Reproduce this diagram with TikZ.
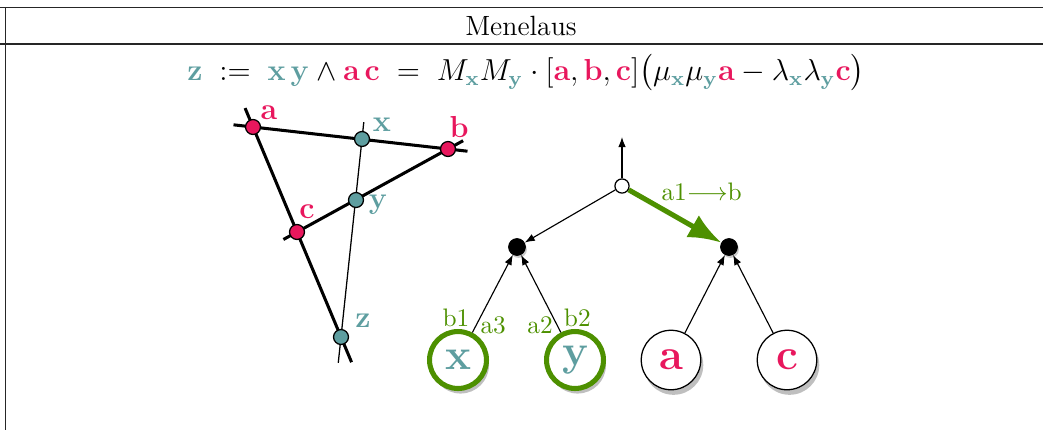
\documentclass[tikz,border=0pt]{standalone}
\usepackage{amsmath}
\usetikzlibrary{arrows.meta, calc, shadows, backgrounds}

\definecolor{ptred}{RGB}{232,23,93}
\definecolor{ptteal}{RGB}{94,158,160}
\definecolor{ptgreen}{RGB}{77,144,0}

\newcommand{\ptx}{\textcolor{ptteal}{\mathbf{x}}}
\newcommand{\pty}{\textcolor{ptteal}{\mathbf{y}}}
\newcommand{\ptz}{\textcolor{ptteal}{\mathbf{z}}}
\newcommand{\pta}{\textcolor{ptred}{\mathbf{a}}}
\newcommand{\ptb}{\textcolor{ptred}{\mathbf{b}}}
\newcommand{\ptc}{\textcolor{ptred}{\mathbf{c}}}

\begin{document}
\begin{tikzpicture}[
    x=0.395pt, y=-0.395pt,
    frame/.style={line width=0.7pt, black!85},
    redpt/.style={draw, circle, fill=ptred, minimum size=5.9pt, inner sep=0pt, line width=0.5pt},
    tealpt/.style={draw, circle, fill=ptteal, minimum size=5.9pt, inner sep=0pt, line width=0.5pt},
    ptlabel/.style={font=\large\bfseries},
    thickline/.style={line width=1.2pt},
    thinline/.style={line width=0.5pt},
    whitenode/.style={draw, circle, fill=white, minimum size=5.6pt, inner sep=0pt, line width=0.5pt},
    blacknode/.style={draw, circle, fill=black, minimum size=6.6pt, inner sep=0pt, drop shadow={opacity=0.4, shadow xshift=0.6pt, shadow yshift=-1pt}},
    leaf/.style={draw, circle, fill=white, minimum size=23.5pt, inner sep=0pt, line width=0.5pt, font=\LARGE\bfseries, drop shadow={opacity=0.5, shadow xshift=1pt, shadow yshift=-2pt}},
    greenleaf/.style={leaf, draw=ptgreen, line width=2pt, minimum size=22.5pt},
    arrow/.style={-{Latex[length=4pt, width=3pt]}, line width=0.45pt},
    greenarrow/.style={-{Latex[length=13pt, width=10pt]}, line width=2pt, draw=ptgreen},
    elabel/.style={text=ptgreen, inner sep=1pt}
]
\useasboundingbox (0,0) rectangle (1043,430);

% Table
\draw[frame] (0,7.5) -- (1043,7.5);
\draw[frame] (0,44) -- (1043,44);
\draw[frame] (5.5,7.5) -- (5.5,430);
\node (title) at (521,26) {\fontsize{11}{13}\selectfont Menelaus};
\node (formula) at (526,73) {\large $\ptz \;:=\; \ptx\,\pty \wedge \pta\,\ptc \;=\; M_{\ptx}M_{\pty}\cdot[\pta,\ptb,\ptc]\big(\mu_{\ptx}\mu_{\pty}\pta-\lambda_{\ptx}\lambda_{\pty}\ptc\big)$};

% Points
\node (a) [redpt] at (253,127) {};
\node (b) [redpt] at (448,149) {};
\node (c) [redpt] at (297,232) {};
\node (x) [tealpt] at (362,139) {};
\node (y) [tealpt] at (356,200) {};
\node (z) [tealpt] at (341,337) {};
\node[ptlabel, text=ptred] at (269,113) {a};
\node[ptlabel, text=ptred] at (459,127) {b};
\node[ptlabel, text=ptred] at (307,212) {c};
\node[ptlabel, text=ptteal] at (382,125) {x};
\node[ptlabel, text=ptteal] at (378,205) {y};
\node[ptlabel, text=ptteal] at (363,321) {z};

% Lines
\begin{scope}[on background layer]
\draw[thickline] ($(a)!-0.1!(b)$) -- ($(b)!-0.1!(a)$);
\draw[thickline] ($(a)!-0.09!(z)$) -- ($(z)!-0.12!(a)$);
\draw[thickline] ($(c)!-0.09!(b)$) -- ($(b)!-0.1!(c)$);
\draw[thinline] ($(x)!-0.085!(z)$) -- ($(z)!-0.13!(x)$);
\end{scope}

% Tree
\node (root) [whitenode] at (622,186) {};
\coordinate (up) at (622,137);
\node (nl) [blacknode] at (517,247) {};
\node (nr) [blacknode] at (729,247) {};
\node (lx) [greenleaf, text=ptteal] at (458,360) {x};
\node (ly) [greenleaf, text=ptteal] at (575,360) {y};
\node (la) [leaf, text=ptred] at (671,360) {a};
\node (lc) [leaf, text=ptred] at (787,360) {c};

\draw[arrow] (root) -- (up);
\draw[arrow] (root) -- (nl);
\draw[greenarrow] (root) -- node[elabel, pos=0.3, anchor=south west, xshift=0pt] {a1$\longrightarrow$b} (nr);
\draw[arrow] (lx) -- node[elabel, pos=0, anchor=south east, yshift=1pt] {b1} node[elabel, pos=0, anchor=west, xshift=2pt, yshift=3pt] {a3} (nl);
\draw[arrow] (ly) -- node[elabel, pos=0, anchor=east, xshift=-2pt, yshift=3pt] {a2} node[elabel, pos=0, anchor=south west, yshift=1pt] {b2} (nl);
\draw[arrow] (la) -- (nr);
\draw[arrow] (lc) -- (nr);

\end{tikzpicture}
\end{document}
